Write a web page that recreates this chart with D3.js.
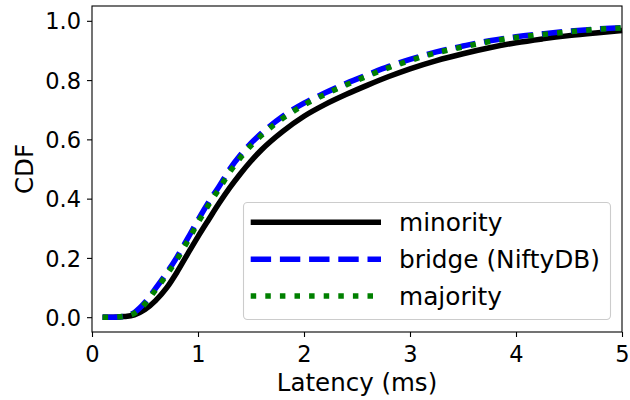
<!DOCTYPE html>
<html><head><meta charset="utf-8">
<script src="https://cdn.jsdelivr.net/npm/d3@7"></script>
<style>body{margin:0;background:#fff}svg{display:block}text{font-family:"DejaVu Sans",sans-serif;fill:#000}</style>
</head><body>
<svg id="c" width="630" height="400"></svg>
<script>
const latency = [0.1,0.2,0.3,0.4,0.5,0.6,0.7,0.8,0.9,1.0,1.1,1.2,1.3,1.4,1.5,1.6,1.8,2.0,2.2,2.4,2.6,2.8,3.0,3.25,3.5,3.75,4.0,4.25,4.5,4.75,5.0];
const minority = [0,0,0.002,0.008,0.026,0.056,0.097,0.151,0.212,0.272,0.329,0.385,0.437,0.484,0.527,0.565,0.627,0.678,0.718,0.752,0.783,0.812,0.838,0.866,0.889,0.909,0.926,0.939,0.950,0.959,0.967];
const bridge = [0,0,0.003,0.016,0.050,0.097,0.147,0.202,0.264,0.328,0.388,0.442,0.500,0.547,0.587,0.621,0.678,0.722,0.757,0.789,0.818,0.846,0.870,0.895,0.915,0.933,0.946,0.956,0.965,0.972,0.977];
const majority = [0,0,0.003,0.013,0.045,0.092,0.141,0.194,0.255,0.319,0.379,0.433,0.490,0.538,0.579,0.614,0.671,0.716,0.752,0.784,0.814,0.842,0.866,0.892,0.912,0.930,0.944,0.954,0.963,0.971,0.976];
const seriesNames = ["minority","bridge (NiftyDB)","majority"];
const xTicks = [0,1,2,3,4,5];
const yTicks = [0,0.2,0.4,0.6,0.8,1.0];

const svg = d3.select("#c");
const L=92,R=622,T=6,B=332;
const x = d3.scaleLinear().domain([0,5]).range([L,R]);
const y = d3.scaleLinear().domain([-0.05,1.05]).range([B,T]);

const styles = [
  {color:"#000000", dash:null},
  {color:"#0000ff", dash:"20.4,8.8"},
  {color:"#008000", dash:"5.5,9.1"}
];
const data = [minority,bridge,majority];
const line = d3.line().x((d,i)=>x(latency[i])).y(d=>y(d)).curve(d3.curveMonotoneX);
const g = svg.append("g");
data.forEach((s,k)=>{
  g.append("path").attr("d",line(s)).attr("fill","none")
   .attr("stroke",styles[k].color).attr("stroke-width",5.5)
   .attr("stroke-dasharray",styles[k].dash);
});

// axes
const xa = svg.append("g").attr("transform",`translate(0,${B})`)
  .call(d3.axisBottom(x).tickValues(xTicks).tickFormat(d3.format("d")).tickSizeOuter(0).tickSize(5).tickPadding(6));
const ya = svg.append("g").attr("transform",`translate(${L},0)`)
  .call(d3.axisLeft(y).tickValues(yTicks).tickFormat(d3.format(".1f")).tickSizeOuter(0).tickSize(5).tickPadding(6));
[xa,ya].forEach(a=>{a.select(".domain").remove();a.selectAll("line").attr("stroke","#000").attr("stroke-width",1.1);
  a.selectAll("text").attr("font-size",22.5).attr("font-family","DejaVu Sans").attr("fill","#000");});
xa.selectAll("text").attr("dy",null).attr("y",30);
ya.selectAll("text").attr("dy","0.36em");
svg.append("rect").attr("x",L).attr("y",T).attr("width",R-L).attr("height",B-T)
  .attr("fill","none").attr("stroke","#000").attr("stroke-width",1.1);

svg.append("text").attr("x",(L+R)/2).attr("y",391).attr("text-anchor","middle").attr("font-size",24.5).text("Latency (ms)");
svg.append("text").attr("transform",`translate(33,${(T+B)/2}) rotate(-90)`).attr("text-anchor","middle").attr("font-size",24.5).text("CDF");

// legend
const lg = svg.append("g");
lg.append("rect").attr("x",243.5).attr("y",202.5).attr("width",367).attr("height",117).attr("rx",4)
  .attr("fill","#fff").attr("fill-opacity",0.8).attr("stroke","#cccccc").attr("stroke-width",1.1);
const ly=[222.3,259.3,296];
seriesNames.forEach((n,k)=>{
  lg.append("line").attr("x1",250.7).attr("x2",381).attr("y1",ly[k]).attr("y2",ly[k])
    .attr("stroke",styles[k].color).attr("stroke-width",5.5).attr("stroke-dasharray",styles[k].dash);
  lg.append("text").attr("x",399).attr("y",ly[k]).attr("dy","0.36em").attr("font-size",24.8).text(n);
});
</script>
</body></html>
